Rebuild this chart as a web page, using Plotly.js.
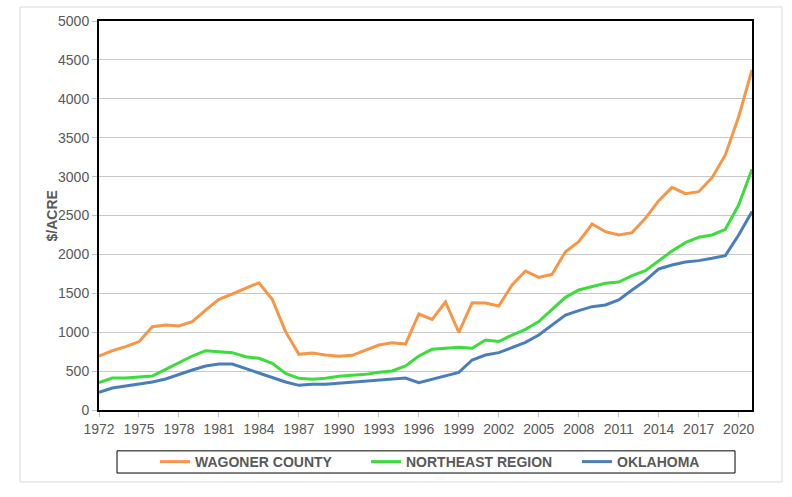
<!DOCTYPE html>
<html>
<head>
<meta charset="utf-8">
<script src="https://cdn.plot.ly/plotly-3.0.1.min.js"></script>
<style>html,body{margin:0;padding:0;background:#fff}#chart{width:792px;height:497px}</style>
</head>
<body>
<div id="chart"></div>
<script>
const years = [];
for (let y = 1972; y <= 2021; y++) years.push(y);

const wagonerCounty = [694, 762, 814, 878, 1071, 1093, 1080, 1135, 1285, 1422,
  1491, 1564, 1636, 1422, 1007, 716, 733, 707, 690, 703,
  771, 835, 865, 848, 1234, 1165, 1388, 999, 1379, 1375,
  1337, 1607, 1787, 1705, 1744, 2035, 2164, 2391, 2292, 2250,
  2280, 2464, 2691, 2862, 2780, 2806, 2986, 3278, 3770, 4370];

const northeastRegion = [351, 411, 411, 428, 437, 523, 608, 694, 762, 754,
  737, 685, 664, 600, 471, 407, 394, 407, 433, 446,
  458, 484, 501, 566, 694, 780, 793, 805, 793, 900,
  880, 964, 1037, 1136, 1294, 1448, 1543, 1585, 1628, 1645,
  1727, 1791, 1920, 2044, 2151, 2220, 2250, 2323, 2635, 3094];

const oklahoma = [227, 283, 308, 334, 360, 398, 458, 514, 566, 591,
  591, 531, 480, 420, 360, 317, 330, 330, 343, 356,
  369, 381, 398, 411, 351, 394, 437, 484, 643, 707,
  737, 801, 870, 964, 1093, 1221, 1277, 1328, 1350, 1414,
  1543, 1663, 1813, 1864, 1903, 1920, 1950, 1984, 2250, 2550];

const xTickVals = [];
for (let y = 1972; y <= 2020; y += 3) xTickVals.push(y);
const yTickVals = [0, 500, 1000, 1500, 2000, 2500, 3000, 3500, 4000, 4500, 5000];

const font = "Liberation Sans, Arial, sans-serif";
const gray = "#595959";

const traces = [
  {x: years, y: wagonerCounty, name: "WAGONER COUNTY", type: "scatter", mode: "lines",
   line: {color: "#F79646", width: 3}},
  {x: years, y: northeastRegion, name: "NORTHEAST REGION", type: "scatter", mode: "lines",
   line: {color: "#3CDC3C", width: 3}},
  {x: years, y: oklahoma, name: "OKLAHOMA", type: "scatter", mode: "lines",
   line: {color: "#4A7EBB", width: 3}}
];

const layout = {
  width: 792, height: 497,
  margin: {l: 99, r: 40, t: 21, b: 87},
  paper_bgcolor: "#fff", plot_bgcolor: "#fff",
  font: {family: font, color: gray, size: 14},
  showlegend: true,
  xaxis: {
    range: [1972, 2021], tickvals: xTickVals, ticktext: xTickVals.map(String),
    showgrid: false, zeroline: false,
    showline: true, linecolor: "#000", linewidth: 2, mirror: true,
    ticks: "outside", ticklen: 5, tickcolor: "#bfbfbf",
    tickfont: {family: font, size: 14, color: gray}
  },
  yaxis: {
    range: [0, 5000], tickvals: yTickVals,
    showgrid: true, gridcolor: "#c6c6c6", gridwidth: 1, zeroline: false,
    showline: true, linecolor: "#000", linewidth: 2, mirror: true,
    ticks: "outside", ticklen: 5, tickcolor: "#bfbfbf",
    tickfont: {family: font, size: 14, color: gray}
  },
  annotations: [
    {text: "<b>$/ACRE</b>", xref: "paper", yref: "paper", x: -0.072, y: 0.5,
     xanchor: "center", yanchor: "middle", textangle: -90, showarrow: false,
     font: {family: font, size: 14, color: gray}}
  ],
  legend: {
    orientation: "h", xref: "container", yref: "container",
    x: 0.1957, xanchor: "left", y: 0.0704, yanchor: "middle",
    font: {family: font, size: 14, color: gray}, bgcolor: "rgba(0,0,0,0)",
    entrywidth: 166, entrywidthmode: "pixels", itemwidth: 30
  },
  shapes: [
    {type: "rect", xref: "paper", yref: "paper", x0: -0.121, x1: 1.046, y0: -0.185, y1: 1.036,
     line: {color: "#d9d9d9", width: 1}, fillcolor: "rgba(0,0,0,0)", layer: "below"},
    {type: "rect", xref: "paper", yref: "paper", x0: 0.0276, x1: 0.974, y0: -0.162, y1: -0.105,
     line: {color: "#000", width: 1}, fillcolor: "rgba(0,0,0,0)"}
  ]
};

traces.forEach(t => { t.name = "<b>" + t.name + "</b>"; });

Plotly.newPlot("chart", traces, layout, {displayModeBar: false, staticPlot: true});
</script>
</body>
</html>
